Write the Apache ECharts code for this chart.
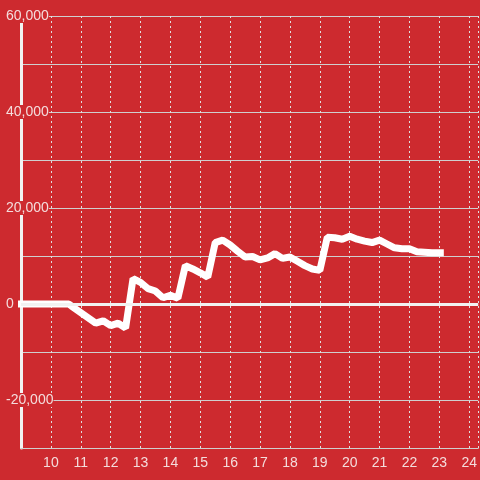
<!DOCTYPE html>
<html>
<head>
<meta charset="utf-8">
<script src="https://cdn.jsdelivr.net/npm/echarts@6/dist/echarts.min.js"></script>
<style>
  html, body { margin: 0; padding: 0; background: #cd2a2f; }
  #chart { width: 480px; height: 480px; }
</style>
</head>
<body>
<div id="chart"></div>
<script>
// hours of the day (quarter-hour steps) and running value
const hours = [8.9, 9, 9.25, 9.5, 9.75, 10, 10.25, 10.5, 10.6, 10.75, 11, 11.25, 11.5, 11.75, 12, 12.25, 12.5,
  12.75, 13, 13.25, 13.5, 13.75, 14, 14.25, 14.5, 14.75, 15, 15.25, 15.5, 15.75, 16, 16.25, 16.5,
  16.75, 17, 17.25, 17.5, 17.75, 18, 18.25, 18.5, 18.75, 19, 19.25, 19.5, 19.75, 20, 20.25, 20.5,
  20.75, 21, 21.25, 21.5, 21.75, 22, 22.25, 22.5, 22.75, 23, 23.15];
const values = [0, 0, 0, 0, 0, 0, 0, 0, 0, -0.7, -1.8, -2.9, -4.0, -3.5, -4.5, -4.0, -5.0,
  5.3, 4.5, 3.2, 2.7, 1.3, 1.8, 1.2, 8.0, 7.3, 6.5, 5.6, 12.8, 13.3, 12.3, 11.0, 9.8,
  9.9, 9.2, 9.6, 10.5, 9.5, 9.8, 8.9, 8.0, 7.3, 7.0, 13.9, 13.8, 13.5, 14.1, 13.5, 13.1,
  12.8, 13.3, 12.5, 11.7, 11.5, 11.5, 10.9, 10.8, 10.7, 10.7, 10.7].map(v => v * 1000);

const bg = '#cd2a2f';
const textColor = '#f4dcdc';

const chart = echarts.init(document.getElementById('chart'));

chart.setOption({
  backgroundColor: bg,
  animation: false,
  grid: { left: 21, right: 0, top: 16, bottom: 32 },
  xAxis: {
    type: 'value',
    min: 9,
    max: 24.3,
    interval: 1,
    axisLine: { show: true, onZero: false, lineStyle: { color: '#cfcfcf', width: 1 } },
    axisTick: { show: false },
    axisLabel: {
      color: textColor,
      fontSize: 14,
      fontFamily: 'Liberation Sans',
      margin: 8,
      showMinLabel: false,
      showMaxLabel: false
    },
    splitLine: { show: true, lineStyle: { color: '#e0e0e0', type: [2, 3], width: 1 } }
  },
  yAxis: {
    type: 'value',
    min: -30000,
    max: 60000,
    interval: 10000,
    axisLine: { show: true, lineStyle: { color: '#f2f2f2', width: 3 } },
    axisTick: { show: false },
    axisLabel: {
      color: textColor,
      fontSize: 14,
      fontFamily: 'Liberation Sans',
      align: 'left',
      margin: 15,
      backgroundColor: bg,
      formatter: v => (v % 20000 === 0 ? v.toLocaleString('en-US') : '')
    },
    splitLine: { show: true, lineStyle: { color: '#cfcfcf', width: 1 } }
  },
  series: [
    {
      type: 'line',
      data: hours.map((h, i) => [h, values[i]]),
      showSymbol: false,
      clip: false,
      lineStyle: { color: '#ffffff', width: 7 },
      markLine: {
        silent: true,
        symbol: 'none',
        label: { show: false },
        lineStyle: { color: '#f2f2f2', width: 3, type: 'solid' },
        data: [{ yAxis: 0 }]
      },
      z: 3
    }
  ]
});
</script>
</body>
</html>
